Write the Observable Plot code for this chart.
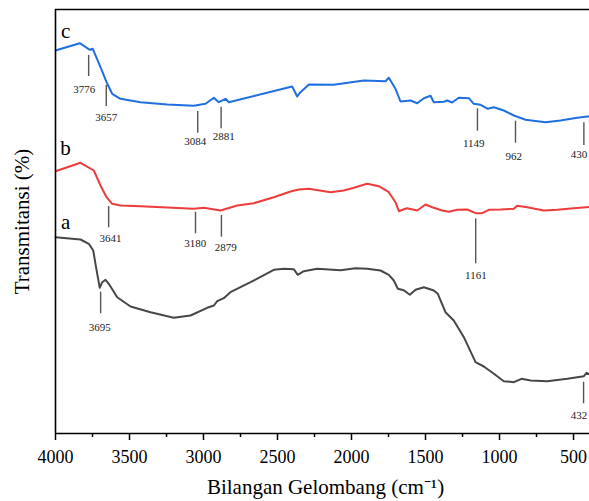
<!DOCTYPE html>
<html><head><meta charset="utf-8">
<script src="https://cdn.jsdelivr.net/npm/d3@7"></script>
<script src="https://cdn.jsdelivr.net/npm/@observablehq/plot@0.6"></script>
<style>body{margin:0;background:#fff}</style>
</head><body><div id="chart"></div>
<script>
// Spectrum a (gray)
const wnA = [4000,3831,3775,3745,3730,3714,3701,3684,3662,3640,3583,3493,3358,3201,3088,2975,2930,2907,2863,2818,2682,2525,2457,2390,2363,2322,2232,2074,1973,1894,1804,1748,1714,1687,1647,1606,1567,1511,1444,1417,1365,1309,1241,1162,1106,1038,971,903,851,790,678,542,430,412,392];
const tA = [196.3,194,189.7,183,169.7,156.3,145.7,151.3,153.7,149.7,136.3,127,121.3,115.7,118,125.7,128,132.3,135.3,141.3,151.3,163.7,164.7,164.3,158.7,162.3,164.7,163.3,165.3,164.7,163,158.7,153,144.7,143.3,138.7,143.7,146.3,143,139.7,121.3,113,96.3,71.3,67,59.7,52.3,51.3,54.7,53,52.3,54.7,57.3,60.7,59];
// Spectrum b (red)
const wnB = [4000,3831,3741,3696,3655,3617,3561,3426,3245,3066,2998,2885,2772,2660,2525,2412,2356,2288,2142,2052,1984,1894,1815,1748,1703,1680,1651,1624,1556,1500,1455,1387,1342,1286,1218,1162,1117,1072,993,903,881,813,701,610,498,392];
const tB = [262.3,270.7,263,248,236.3,229.7,228,227.3,226,224.7,225.7,223,228,230.3,236.3,242,244,244.7,241.3,243,245.7,249.7,247.3,241.3,231.3,222.3,224,225.3,223,229,226.3,223,221.7,223.7,224,220.3,220.3,223.7,224,224.7,227.7,226.3,223,223.7,225.3,226.5];
// Spectrum c (blue)
const wnC = [4000,3836,3768,3748,3696,3655,3617,3561,3426,3245,3066,2986,2930,2897,2851,2829,2401,2367,2345,2288,2120,1917,1770,1748,1703,1669,1601,1556,1511,1466,1444,1376,1353,1320,1275,1207,1174,1128,1079,1038,971,903,824,689,588,475,407,392];
const tC = [383,390.3,383.7,384.7,366.3,351.3,339.7,334.7,331.3,329,327.7,329.7,335.7,331.3,334.7,331.3,347,337,341.3,349,348.7,353,352.3,355.7,344.7,332,333,330.3,335.3,337.7,331.3,331.7,333,331,335.7,335.3,329.7,328.7,324.7,326.3,323,318,313.7,311.3,313,315.7,317,317];

// Peak annotations
const annLabels = ["3776","3657","3084","2881","1149","962","430","3641","3180","2879","1161","3695","432"];
const annWn = [3776,3657,3039,2881,1149,892,430,3641,3054,2879,1161,3695,432];
const annTop = [378,348,322,326.3,324.7,312.3,310.7,227,221.3,218,214.7,141.3,51.3];
const annBottom = [357,327,300.3,304.7,302.3,290.3,288,205.7,199.7,196.3,169.7,119.7,29.7];
const annLabelWn = [3806,3657,3056,2863,1174,904,463,3628,3056,2849,1160,3701,463];
const annLabelT = [344,316.3,292.3,297,289.7,277.3,279,194.7,189.7,186.3,158,106.3,18];

// Sample letters
const sampleNames = ["a","b","c"];
const sampleWn = [3932,3932,3932];
const sampleT = [211.3,285,402];

const majorTicks = [4000,3500,3000,2500,2000,1500,1000,500];
const minorTicks = [3750,3250,2750,2250,1750,1250,750];
const xTitle = "Bilangan Gelombang (cm\u207B\u00B9)";
const yTitle = "Transmitansi (%)";
const colors = {a: "#474747", b: "#ee3b3b", c: "#1f6fdf"};

const serif = "Liberation Serif, Times New Roman, serif";
const series = [
  ...wnA.map((w, i) => ({s: "a", w, t: tA[i]})),
  ...wnB.map((w, i) => ({s: "b", w, t: tB[i]})),
  ...wnC.map((w, i) => ({s: "c", w, t: tC[i]}))
];
const anns = annLabels.map((l, i) => ({l, w: annWn[i], y1: annTop[i], y2: annBottom[i], lw: annLabelWn[i], lt: annLabelT[i]}));
const samples = sampleNames.map((n, i) => ({n, w: sampleWn[i], t: sampleT[i]}));

const chart = Plot.plot({
  width: 589, height: 501,
  marginLeft: 55, marginRight: 0, marginTop: 9, marginBottom: 68,
  style: {fontFamily: serif, background: "#fff"},
  x: {domain: [4000, 392]},
  y: {domain: [0, 424], axis: null},
  marks: [
    Plot.line(series, {x: "w", y: "t", z: "s", stroke: d => colors[d.s], strokeWidth: 2}),
    Plot.ruleX(anns, {x: "w", y1: "y1", y2: "y2", stroke: "#555", strokeWidth: 1.4}),
    Plot.text(anns, {x: "lw", y: "lt", text: "l", fontSize: 11, fill: "#222", fontFamily: serif}),
    Plot.text(samples, {x: "w", y: "t", text: "n", fontSize: 21, fill: "#000", fontFamily: serif}),
    Plot.ruleX([4000], {stroke: "#000", strokeWidth: 1.6}),
    Plot.ruleY([0, 424], {stroke: "#000", strokeWidth: 1.6}),
    Plot.axisX(majorTicks, {tickSize: 7, tickPadding: 10, tickFormat: "d", fontSize: 18, strokeWidth: 1.5, label: null, fontFamily: serif, fill: "#000"}),
    Plot.axisX(minorTicks, {tickSize: 4, tickFormat: () => "", strokeWidth: 1.5, label: null}),
    Plot.text([xTitle], {frameAnchor: "bottom", textAnchor: "middle", lineAnchor: "middle", dy: 54, dx: 3, fontSize: 21, fontFamily: serif, fill: "#000"}),
    Plot.text([yTitle], {frameAnchor: "left", textAnchor: "middle", lineAnchor: "middle", dx: -33, rotate: -90, fontSize: 21, fontFamily: serif, fill: "#000"})
  ]
});
document.getElementById("chart").appendChild(chart);
</script>
</body></html>
